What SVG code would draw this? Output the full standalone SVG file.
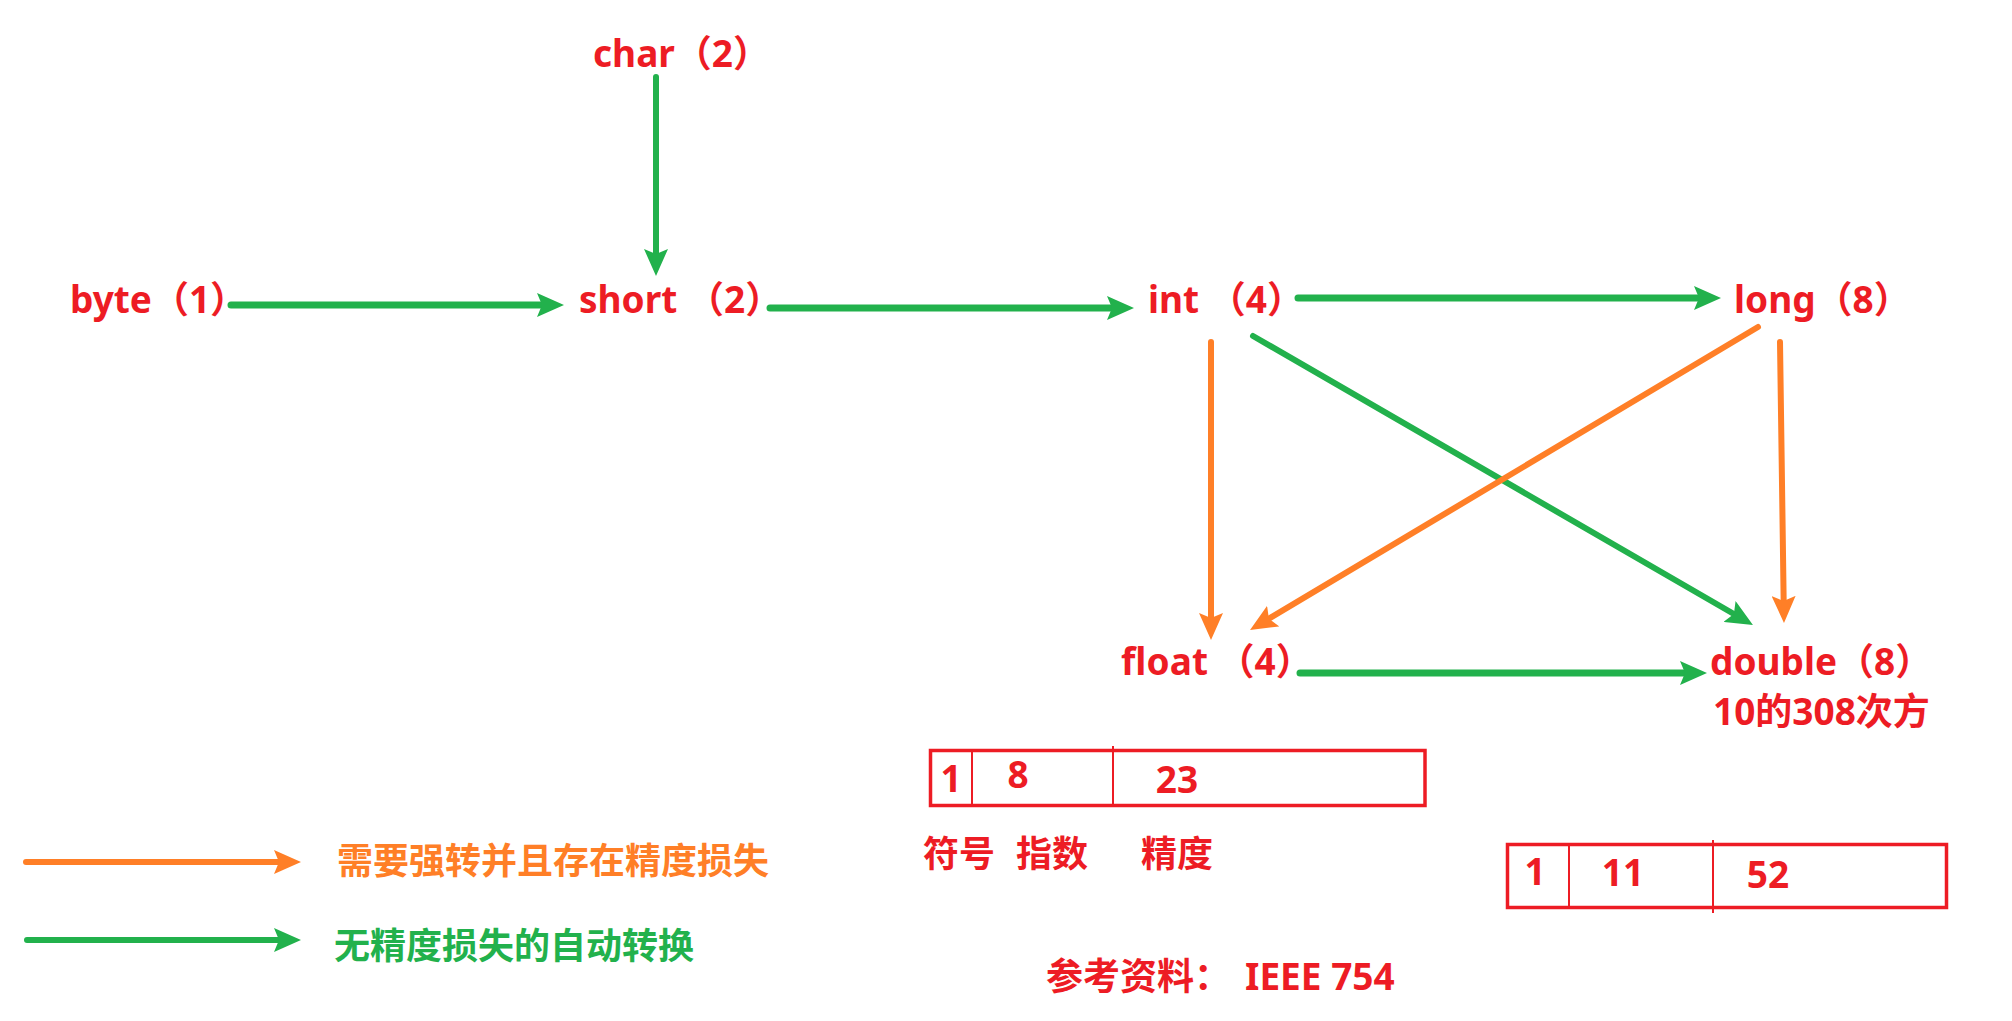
<svg xmlns="http://www.w3.org/2000/svg" width="2012" height="1021" viewBox="0 0 2012 1021">
<style>
.t{font-family:"Noto Sans","Noto Sans CJK SC",sans-serif;font-weight:700;font-size:37px;fill:#ED1C24}
.c{font-family:"Noto Sans CJK SC","Noto Sans",sans-serif;font-weight:700;font-size:36px}
.red{fill:#ED1C24}
.og{fill:#FF7F27}
.gr{fill:#22B14C}
.g{stroke:#22B14C;stroke-width:6;fill:none;stroke-linecap:round}
.o{stroke:#FF7F27;stroke-width:6;fill:none;stroke-linecap:round}
.box{fill:none;stroke:#ED1C24;stroke-width:3.5}
.div{stroke:#ED1C24;stroke-width:2}
</style>
<defs>
<marker id="ag" viewBox="0 0 27 24" markerWidth="27" markerHeight="24" refX="14" refY="12" orient="auto" markerUnits="userSpaceOnUse"><path d="M0,0 L27,12 L0,24 L5,12 Z" fill="#22B14C"/></marker>
<marker id="ao" viewBox="0 0 27 24" markerWidth="27" markerHeight="24" refX="14" refY="12" orient="auto" markerUnits="userSpaceOnUse"><path d="M0,0 L27,12 L0,24 L5,12 Z" fill="#FF7F27"/></marker>
</defs>
<rect width="2012" height="1021" fill="#ffffff"/>
<g id="connectors">
<line class="g" x1="656" y1="77" x2="656" y2="263" marker-end="url(#ag)"/>
<line class="g" x1="231" y1="305" x2="551" y2="305" style="stroke-width:7" marker-end="url(#ag)"/>
<line class="g" x1="770" y1="308" x2="1121" y2="308" style="stroke-width:7" marker-end="url(#ag)"/>
<line class="g" x1="1298" y1="298" x2="1708" y2="298" style="stroke-width:7" marker-end="url(#ag)"/>
<line class="o" x1="1211" y1="342" x2="1211" y2="627" marker-end="url(#ao)"/>
<line class="g" x1="1253" y1="336" x2="1741.7" y2="618.5" marker-end="url(#ag)"/>
<line class="o" x1="1758" y1="327" x2="1261.2" y2="623.3" marker-end="url(#ao)"/>
<line class="o" x1="1780" y1="342" x2="1783.8" y2="610" marker-end="url(#ao)"/>
<line class="g" x1="1300" y1="673" x2="1694" y2="673" style="stroke-width:7" marker-end="url(#ag)"/>
</g>
<g id="n-char"><text class="t" x="593" y="67">char（2）</text></g>
<g id="n-byte"><text class="t" x="70" y="313">byte（1）</text></g>
<g id="n-short"><text class="t" x="579" y="313">short （2）</text></g>
<g id="n-int"><text class="t" x="1148" y="313">int （4）</text></g>
<g id="n-long"><text class="t" x="1734" y="313">long（8）</text></g>
<g id="n-float"><text class="t" x="1121" y="675">float （4）</text></g>
<g id="n-double"><text class="t" x="1710" y="675">double（8）</text><text class="t" x="1713" y="725">10的308次方</text></g>
<g id="float-bits">
<rect class="box" x="930.5" y="750.5" width="494.5" height="55"/>
<line class="div" x1="972" y1="750" x2="972" y2="806"/>
<line class="div" x1="1113" y1="746" x2="1113" y2="806"/>
<text class="t" x="951" y="792" text-anchor="middle">1</text>
<text class="t" x="1018" y="788" text-anchor="middle">8</text>
<text class="t" x="1177" y="793" text-anchor="middle">23</text>
<text class="c red" x="959" y="867" text-anchor="middle">符号</text>
<text class="c red" x="1052" y="867" text-anchor="middle">指数</text>
<text class="c red" x="1177" y="867" text-anchor="middle">精度</text>
</g>
<g id="double-bits">
<rect class="box" x="1507.5" y="844.5" width="439" height="63"/>
<line class="div" x1="1569" y1="846" x2="1569" y2="906"/>
<line class="div" x1="1713" y1="840" x2="1713" y2="913"/>
<text class="t" x="1535" y="885" text-anchor="middle">1</text>
<text class="t" x="1623" y="886" text-anchor="middle">11</text>
<text class="t" x="1768" y="888" text-anchor="middle">52</text>
</g>
<g id="reference"><text class="t" x="1046" y="990">参考资料：<tspan x="1245">IEEE 754</tspan></text></g>
<g id="legend">
<line class="o" x1="26" y1="862" x2="288" y2="862" marker-end="url(#ao)"/>
<line class="g" x1="27" y1="940" x2="288" y2="940" marker-end="url(#ag)"/>
<text class="c og" x="337" y="874">需要强转并且存在精度损失</text>
<text class="c gr" x="334" y="959">无精度损失的自动转换</text>
</g>
</svg>
